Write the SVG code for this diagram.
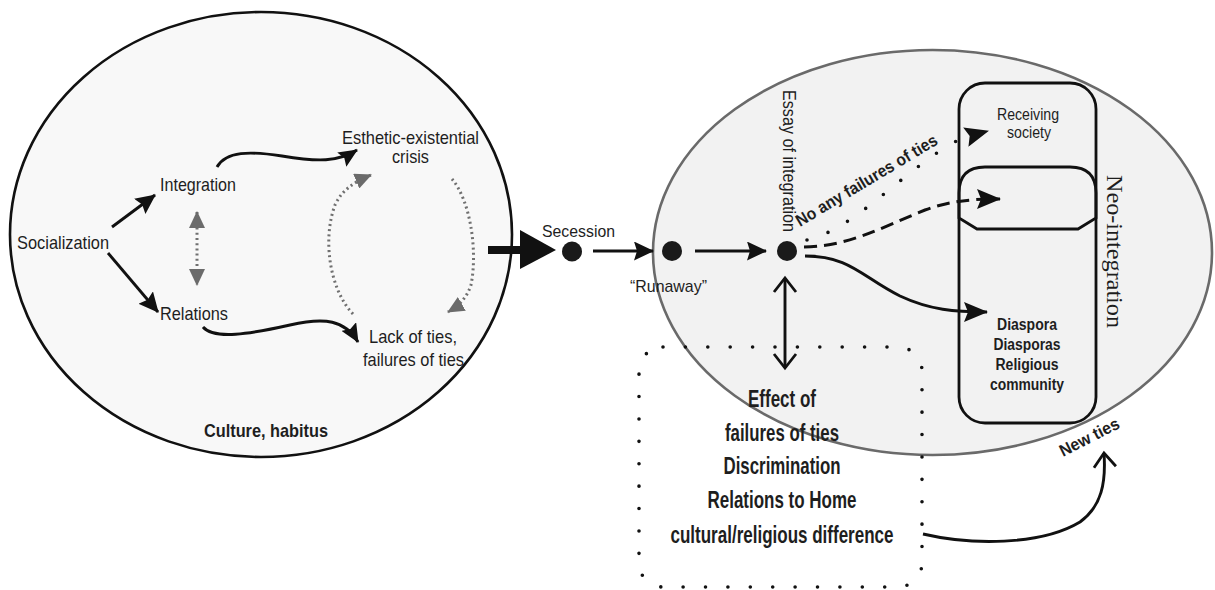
<svg xmlns="http://www.w3.org/2000/svg" width="1215" height="590" viewBox="0 0 1215 590">
  <style>
    .t { font-family: "Liberation Sans", Arial, sans-serif; fill: #1e1e1e; }
    .b { font-weight: bold; }
    .serif { font-family: "Liberation Serif", "Times New Roman", serif; fill: #1e1e1e; }
    .ln { fill: none; stroke: #111; stroke-width: 2.9; }
    .gdot { fill: none; stroke: #707070; stroke-width: 3; stroke-dasharray: 2 3.2; }
    .rdot { fill: none; stroke: #111; stroke-width: 3.6; stroke-linecap: round; stroke-dasharray: 0 22.4; }
    .dash { fill: none; stroke: #111; stroke-width: 3; stroke-dasharray: 13 7; }
    .node { fill: #1a1a1a; }
  </style>
  <defs>
    <marker id="hb" viewBox="0 0 20 19" refX="19" refY="9.5" markerWidth="20" markerHeight="19" markerUnits="userSpaceOnUse" orient="auto">
      <path d="M0,0 L20,9.5 L0,19 L3,9.5 z" fill="#111"/>
    </marker>
    <marker id="hm" viewBox="0 0 19 17" refX="18" refY="8.5" markerWidth="19" markerHeight="17" markerUnits="userSpaceOnUse" orient="auto">
      <path d="M0,0 L19,8.5 L0,17 L3,8.5 z" fill="#111"/>
    </marker>
    <marker id="hl" viewBox="0 0 24 20" refX="23" refY="10" markerWidth="24" markerHeight="20" markerUnits="userSpaceOnUse" orient="auto">
      <path d="M0,0 L24,10 L0,20 L4,10 z" fill="#111"/>
    </marker>
    <marker id="hg" viewBox="0 0 17 16" refX="16" refY="8" markerWidth="17" markerHeight="16" markerUnits="userSpaceOnUse" orient="auto-start-reverse">
      <path d="M0,0 L17,8 L0,16 z" fill="#6b6b6b"/>
    </marker>
    <marker id="hk" viewBox="0 0 16 24" refX="15" refY="12" markerWidth="16" markerHeight="24" markerUnits="userSpaceOnUse" orient="auto-start-reverse" style="overflow:visible">
      <path d="M1,1 L15,12 L1,23" fill="none" stroke="#111" stroke-width="2.8"/>
    </marker>
  </defs>

  <rect width="1215" height="590" fill="#ffffff"/>

  <!-- left field: culture / habitus -->
  <g id="origin-field">
    <ellipse cx="261" cy="234.5" rx="251" ry="222.5" fill="#f8f8f8" stroke="#111" stroke-width="2.6"/>
    <text class="t b" x="204" y="437" font-size="19" textLength="124" lengthAdjust="spacingAndGlyphs">Culture, habitus</text>
  </g>

  <!-- right field: host context -->
  <g id="host-field">
    <ellipse cx="932.5" cy="252.5" rx="279.5" ry="202.5" fill="#f2f2f2" stroke="#6a6a6a" stroke-width="2.6"/>
  </g>

  <g id="socialization">
    <text class="t" x="17" y="249" font-size="19" textLength="92" lengthAdjust="spacingAndGlyphs">Socialization</text>
  </g>
  <g id="integration">
    <text class="t" x="160" y="191" font-size="19" textLength="76" lengthAdjust="spacingAndGlyphs">Integration</text>
  </g>
  <g id="relations">
    <text class="t" x="160" y="320" font-size="19" textLength="68" lengthAdjust="spacingAndGlyphs">Relations</text>
  </g>
  <g id="crisis">
    <text class="t" x="342" y="144" font-size="19" textLength="137" lengthAdjust="spacingAndGlyphs">Esthetic-existential</text>
    <text class="t" x="392" y="163" font-size="19" textLength="37" lengthAdjust="spacingAndGlyphs">crisis</text>
  </g>
  <g id="lack-of-ties">
    <text class="t" x="369" y="343" font-size="19" textLength="88" lengthAdjust="spacingAndGlyphs">Lack of ties,</text>
    <text class="t" x="363" y="366" font-size="19" textLength="101" lengthAdjust="spacingAndGlyphs">failures of ties</text>
  </g>

  <g id="secession">
    <circle class="node" cx="572" cy="251.5" r="10"/>
    <text class="t" x="542" y="237" font-size="17" textLength="73" lengthAdjust="spacingAndGlyphs">Secession</text>
  </g>
  <g id="runaway">
    <circle class="node" cx="672" cy="251" r="10"/>
    <text class="t" x="630" y="292" font-size="17" textLength="77" lengthAdjust="spacingAndGlyphs">“Runaway”</text>
  </g>
  <g id="essay-of-integration">
    <circle class="node" cx="787" cy="251" r="10"/>
    <text class="t" x="783" y="90" font-size="19" textLength="142" lengthAdjust="spacingAndGlyphs" transform="rotate(90 783 90)">Essay of integration</text>
  </g>

  <!-- neo-integration column -->
  <g id="neo-integration">
    <rect x="959" y="83" width="137" height="340" rx="26" ry="26" fill="none" stroke="#111" stroke-width="2.8"/>
    <text class="serif" x="1107" y="175" font-size="24" textLength="153" lengthAdjust="spacingAndGlyphs" transform="rotate(90 1107 175)">Neo-integration</text>
  </g>
  <g id="receiving-society">
    <text class="t" x="1028" y="120" font-size="16" text-anchor="middle" textLength="62" lengthAdjust="spacingAndGlyphs">Receiving</text>
    <text class="t" x="1029" y="138" font-size="16" text-anchor="middle" textLength="44" lengthAdjust="spacingAndGlyphs">society</text>
  </g>
  <g id="middle-slot">
    <path d="M959,218 L959,193 Q959,167 985,167 L1070,167 Q1096,167 1096,193 L1096,218 L1078,229 L977,229 Z" fill="none" stroke="#111" stroke-width="2.8"/>
  </g>
  <g id="diaspora">
    <text class="t b" x="1027" y="330" font-size="16" text-anchor="middle" textLength="60" lengthAdjust="spacingAndGlyphs">Diaspora</text>
    <text class="t b" x="1027" y="350" font-size="16" text-anchor="middle" textLength="67" lengthAdjust="spacingAndGlyphs">Diasporas</text>
    <text class="t b" x="1027" y="370" font-size="16" text-anchor="middle" textLength="63" lengthAdjust="spacingAndGlyphs">Religious</text>
    <text class="t b" x="1027" y="390" font-size="16" text-anchor="middle" textLength="74" lengthAdjust="spacingAndGlyphs">community</text>
  </g>

  <!-- factors box -->
  <g id="effects">
    <rect x="639" y="347" width="283" height="240" rx="24" ry="24" fill="none" stroke="#111" stroke-width="3.6" stroke-linecap="round" stroke-dasharray="0 22.4"/>
    <text class="t b" x="782" y="407" font-size="24" text-anchor="middle" textLength="68" lengthAdjust="spacingAndGlyphs">Effect of</text>
    <text class="t b" x="782" y="441" font-size="24" text-anchor="middle" textLength="114" lengthAdjust="spacingAndGlyphs">failures of ties</text>
    <text class="t b" x="782" y="474" font-size="24" text-anchor="middle" textLength="117" lengthAdjust="spacingAndGlyphs">Discrimination</text>
    <text class="t b" x="782" y="508" font-size="24" text-anchor="middle" textLength="149" lengthAdjust="spacingAndGlyphs">Relations to Home</text>
    <text class="t b" x="782" y="543" font-size="24" text-anchor="middle" textLength="223" lengthAdjust="spacingAndGlyphs">cultural/religious difference</text>
  </g>

  <!-- connectors -->
  <g id="connectors">
    <line class="ln" x1="112" y1="227" x2="155" y2="195" marker-end="url(#hb)"/>
    <line class="ln" x1="108" y1="253" x2="158" y2="312" marker-end="url(#hb)"/>
    <line class="gdot" x1="197" y1="212" x2="197" y2="285" marker-start="url(#hg)" marker-end="url(#hg)"/>
    <path class="ln" d="M217,167 C226,151 250,151 282,156 C318,162 338,162 357,150" marker-end="url(#hm)"/>
    <path class="ln" d="M203,327 C214,340 250,334 290,325 C325,317 345,320 358,342" marker-end="url(#hm)"/>
    <path class="gdot" d="M353,314 C330,290 322,240 335,205 C342,190 354,182 371,175" marker-end="url(#hg)"/>
    <path class="gdot" d="M452,179 C470,200 478,250 471,285 C467,297 460,305 448,312" marker-end="url(#hg)"/>

    <!-- heavy exit arrow -->
    <line x1="488" y1="250" x2="522" y2="250" stroke="#111" stroke-width="8"/>
    <polygon points="520,230 556,250 520,269" fill="#111"/>

    <line class="ln" x1="593" y1="251" x2="653" y2="251" marker-end="url(#hb)"/>
    <line class="ln" x1="695" y1="251" x2="766" y2="251" marker-end="url(#hb)"/>

    <path class="rdot" d="M807,240 C840,232 870,205 900,181 C925,161 950,142 966,137"/>
    <path d="M966,137 L988,131" fill="none" stroke="none" marker-end="url(#hl)"/>
    <text class="t b" x="800" y="227" font-size="17" textLength="162" lengthAdjust="spacingAndGlyphs" transform="rotate(-31 800 227)">No any failures of ties</text>

    <path class="dash" d="M804,247 C850,246 880,228 925,210 C950,201 970,199 1000,199" marker-end="url(#hl)"/>
    <path class="ln" d="M805,256 C850,256 862,277 900,296 C930,310 955,312 987,312" marker-end="url(#hl)"/>

    <line class="ln" x1="785" y1="278" x2="785" y2="368" marker-start="url(#hk)" marker-end="url(#hk)"/>

    <path class="ln" d="M923,534 C970,545 1040,546 1080,522 C1102,506 1106,482 1104,453" marker-end="url(#hk)"/>
    <text class="t b" x="1063" y="457" font-size="17" textLength="65" lengthAdjust="spacingAndGlyphs" transform="rotate(-27 1063 457)">New ties</text>
  </g>
</svg>
